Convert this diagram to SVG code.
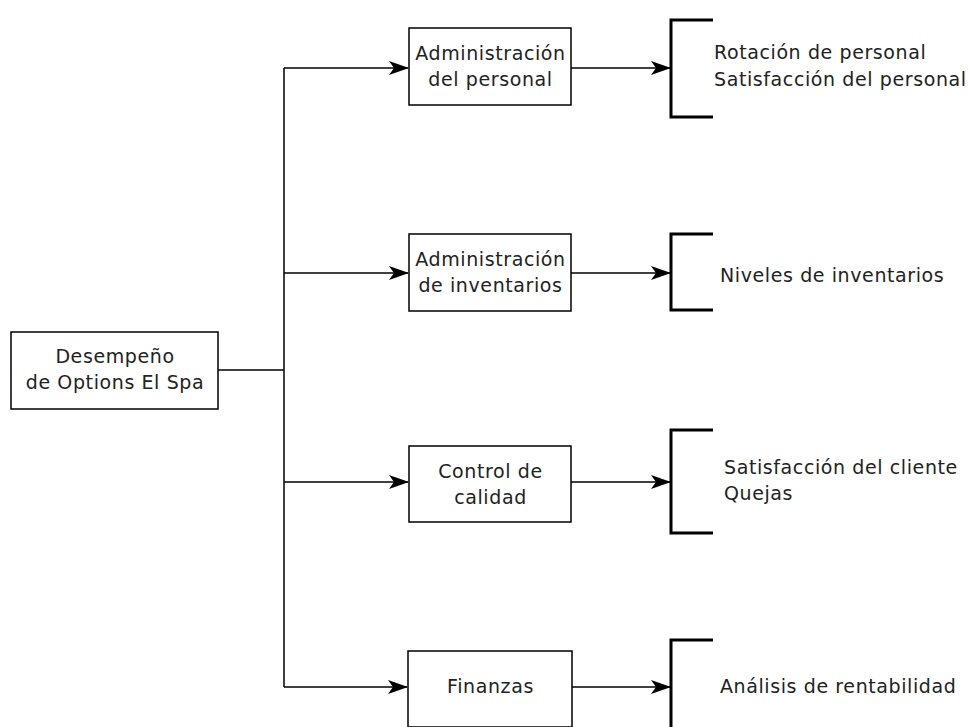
<svg xmlns="http://www.w3.org/2000/svg" width="968" height="727" viewBox="0 0 968 727">
  <style>
    .box { fill: #ffffff; stroke: #000000; stroke-width: 1.5; }
    .wire { fill: none; stroke: #000000; stroke-width: 1.5; }
    .brace { fill: none; stroke: #000000; stroke-width: 3; }
    text { font-family: "DejaVu Sans", Verdana, sans-serif; font-size: 19px; letter-spacing: 0.6px; fill: #222222; }
    .c { text-anchor: middle; }
  </style>
  <defs>
    <marker id="arrow" viewBox="0 0 20 14" refX="19" refY="7" markerWidth="20" markerHeight="14" markerUnits="userSpaceOnUse" orient="auto">
      <path d="M0,0 L20,7 L0,14 L5,7 Z" fill="#000000"/>
    </marker>
  </defs>
  <rect width="968" height="727" fill="#ffffff"/>

  <g id="connectors">
    <path class="wire" d="M218,370 H284"/>
    <path class="wire" d="M284,68 V687"/>
    <path class="wire" d="M284,68 H408" marker-end="url(#arrow)"/>
    <path class="wire" d="M284,273 H408" marker-end="url(#arrow)"/>
    <path class="wire" d="M284,482 H408" marker-end="url(#arrow)"/>
    <path class="wire" d="M284,687 H407" marker-end="url(#arrow)"/>
    <path class="wire" d="M571,68 H670" marker-end="url(#arrow)"/>
    <path class="wire" d="M571,273 H670" marker-end="url(#arrow)"/>
    <path class="wire" d="M571,482 H670" marker-end="url(#arrow)"/>
    <path class="wire" d="M572,687 H670" marker-end="url(#arrow)"/>
  </g>

  <g id="root">
    <rect class="box" x="11" y="332" width="207" height="77"/>
    <text class="c" x="115" y="363">Desempeño</text>
    <text class="c" x="115" y="389">de Options El Spa</text>
  </g>

  <g id="personal">
    <rect class="box" x="409" y="28" width="162" height="77"/>
    <text class="c" x="490.5" y="60">Administración</text>
    <text class="c" x="490.5" y="86">del personal</text>
  </g>

  <g id="inventarios">
    <rect class="box" x="409" y="234" width="162" height="77"/>
    <text class="c" x="490.5" y="266">Administración</text>
    <text class="c" x="490.5" y="292">de inventarios</text>
  </g>

  <g id="calidad">
    <rect class="box" x="409" y="446" width="162" height="76"/>
    <text class="c" x="490.5" y="478">Control de</text>
    <text class="c" x="490.5" y="504">calidad</text>
  </g>

  <g id="finanzas">
    <rect class="box" x="408" y="651" width="164" height="76"/>
    <text class="c" x="490.5" y="693">Finanzas</text>
  </g>

  <g id="indicadores-personal">
    <path class="brace" d="M713,20 H671 V117 H713"/>
    <text x="714" y="59">Rotación de personal</text>
    <text x="714" y="86">Satisfacción del personal</text>
  </g>

  <g id="indicadores-inventarios">
    <path class="brace" d="M713,234 H671 V310 H713"/>
    <text x="720" y="282">Niveles de inventarios</text>
  </g>

  <g id="indicadores-calidad">
    <path class="brace" d="M713,430 H671 V533 H713"/>
    <text x="724" y="474">Satisfacción del cliente</text>
    <text x="724" y="500">Quejas</text>
  </g>

  <g id="indicadores-finanzas">
    <path class="brace" d="M713,640 H671 V740"/>
    <text x="720" y="693">Análisis de rentabilidad</text>
  </g>
</svg>
